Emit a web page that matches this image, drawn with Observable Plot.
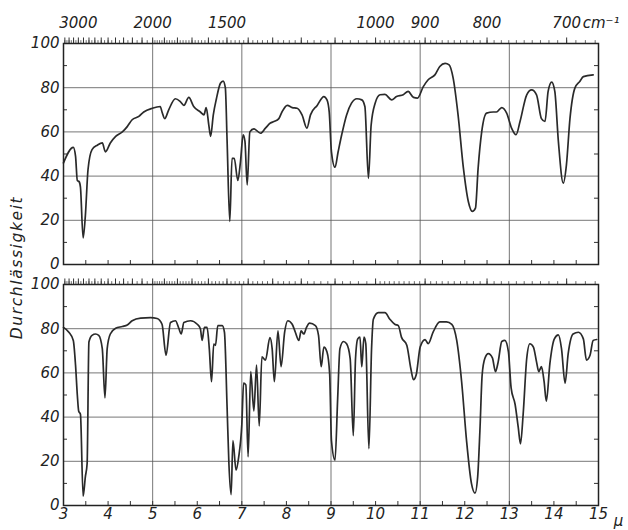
<!DOCTYPE html>
<html><head><meta charset="utf-8">
<script src="https://cdn.jsdelivr.net/npm/d3@7"></script>
<script src="https://cdn.jsdelivr.net/npm/@observablehq/plot@0.6"></script>
<style>
body{margin:0;background:#fff;}
#chart{width:628px;height:530px;}
#chart svg text{font-style:italic;}
</style></head><body><div id="chart"></div>
<script>
// Wellenlänge (µ) und Durchlässigkeit (%) – oberes Spektrum
const topMu = [3.00,3.22,3.27,3.31,3.35,3.38,3.44,3.49,3.55,3.64,
 3.76,3.87,3.94,4.05,4.17,4.32,4.43,4.54,4.69,4.80,
 4.99,5.17,5.21,5.27,5.36,5.51,5.62,5.70,5.81,5.92,
 6.07,6.15,6.20,6.26,6.30,6.36,6.43,6.52,6.58,6.63,
 6.67,6.73,6.78,6.83,6.91,6.97,7.03,7.07,7.12,7.18,
 7.27,7.42,7.53,7.64,7.72,7.83,7.90,8.02,8.13,8.24,
 8.35,8.46,8.54,8.69,8.84,8.91,8.96,9.01,9.09,9.16,
 9.24,9.35,9.46,9.58,9.69,9.76,9.84,9.90,9.99,10.10,
 10.21,10.36,10.47,10.62,10.73,10.85,10.94,11.07,11.18,11.33,
 11.44,11.56,11.65,11.74,11.85,11.97,12.08,12.17,12.24,12.30,
 12.38,12.49,12.64,12.71,12.83,12.94,13.05,13.15,13.24,13.39,
 13.50,13.61,13.72,13.80,13.87,13.95,14.02,14.10,14.21,14.28,
 14.36,14.47,14.58,14.66,14.88];
const topT = [46,53,49,38,37.5,35,12,22,43,52,
 54,55,51,55,58,60,62.4,65.5,67,69,
 70.7,71.5,69,66,70,75,73.7,72,75.6,71.5,
 69,67.7,71,63,58,67.7,75,82,83,80,
 55.6,19.5,48,48,38,46.6,58.7,55.7,36,60,
 61.4,59.4,61.7,64,64.7,66,69,72,71,70.7,
 67.7,61.7,67.7,72,76,74.5,69,51,44,51,
 58.7,67.7,73,75,74.5,71.5,39,63,73,76.8,
 77,74.5,76,76.8,78.3,75.6,75.3,80.5,83.6,85.8,
 89.6,91,90.3,84.3,67.7,43.6,28.5,24,25.5,43.6,
 60,68.5,69,69,71,68.5,61.7,58.7,64.7,76.8,
 79,76.8,66,64.7,78.3,82.5,78.3,55.7,36.8,45,
 66,79.8,82.8,85,85.8];

// unteres Spektrum
const botMu = [3.00,3.12,3.22,3.27,3.31,3.34,3.38,3.44,3.49,3.53,
 3.57,3.64,3.72,3.79,3.87,3.93,3.98,4.05,4.17,4.32,
 4.43,4.54,4.73,4.95,5.10,5.21,5.30,5.40,5.51,5.59,
 5.64,5.70,5.85,6.00,6.07,6.11,6.16,6.22,6.27,6.32,
 6.37,6.41,6.46,6.56,6.61,6.67,6.71,6.76,6.80,6.87,
 6.93,7.00,7.04,7.09,7.14,7.20,7.27,7.33,7.39,7.45,
 7.53,7.63,7.68,7.73,7.81,7.88,7.96,8.03,8.13,8.20,
 8.28,8.33,8.39,8.45,8.52,8.65,8.72,8.78,8.84,8.91,
 8.97,9.01,9.09,9.15,9.20,9.28,9.35,9.43,9.50,9.55,
 9.60,9.65,9.69,9.74,9.78,9.85,9.91,9.95,10.06,10.21,
 10.32,10.43,10.51,10.58,10.70,10.79,10.85,10.91,11.00,11.11,
 11.18,11.29,11.44,11.59,11.71,11.82,11.93,12.04,12.15,12.23,
 12.29,12.34,12.39,12.45,12.53,12.62,12.69,12.75,12.83,12.90,
 12.98,13.04,13.13,13.20,13.25,13.31,13.39,13.46,13.54,13.61,
 13.66,13.72,13.78,13.83,13.91,14.01,14.10,14.17,14.25,14.32,
 14.43,14.55,14.66,14.73,14.81,14.88,14.96];
const botT = [80.6,78.4,74.7,63.5,50,42.8,41.3,4.2,13,19,
 74,77,77.6,77,71,48.7,71,77.6,80.2,81,
 81.7,83.6,84.8,85,84.6,82,68,82.8,83.6,80,
 77.6,82.8,83.6,82,80,74.7,80.6,80.6,71,56,
 73,72.5,81.4,81.4,78.4,44,19,4.9,29.4,16,
 22,36.8,55.4,54.6,22,60.6,42.8,63.5,36,67.3,
 65.8,76,71,56,79,62.8,78.4,83.6,82,78.4,
 74.7,79,77.6,80.6,82.5,81.4,77,62.8,71.7,69.5,
 59.5,29.4,20.5,48.7,71,74.2,73.2,66.5,31.6,66.5,
 75.4,76.2,62.8,76.2,73.2,25.7,71,84.3,87.3,87.3,
 84.3,82,81.4,76.2,72.5,62,56.9,59,71.7,75.1,
 73.2,78.4,83.1,83.1,82,74.7,56,29.4,10,5.6,
 13,33.8,59,66.5,68.7,66.8,60.6,65,74.2,74.7,
 69.5,53.2,45.7,35.3,27.9,41.3,66.5,73.2,71.7,65,
 60.6,62.8,56,47.2,64.3,75.4,77.2,71,55.4,68.7,
 77.6,78.4,75.4,65.8,68,74.7,75.1];

const panels = ["oben", "unten"];
const yTicks = [0, 20, 40, 60, 80, 100];
const yMinor = [10, 30, 50, 70, 90];
const yGrid = [20, 40, 60, 80];
const xTicks = [3,4,5,6,7,8,9,10,11,12,13,14,15];
const xGrid = [5, 7, 9, 11, 13];
const xMinor = d3.range(3.5, 15, 0.5);
const wnLabels = [3000, 2000, 1500, 1000, 900, 800, 700];
const wnMajor = d3.range(3300, 600, -100);
const wnMinor = [...d3.range(3300, 2000, -50), ...d3.range(2000, 1000, -20), ...d3.range(1000, 660, -10)];
const unitLabel = "cm⁻¹";
const muLabel = "μ";
const yTitle = "Durchlässigkeit";

const spectra = [
  ...topMu.map((m, i) => ({panel: "oben", mu: m, t: topT[i]})),
  ...botMu.map((m, i) => ({panel: "unten", mu: m, t: botT[i]}))
];
const toMu = w => 1e4 / w;
const inRange = m => m >= 3 && m <= 15;

const font = "'DejaVu Sans', sans-serif";
const txt = {fontSize: 15, fontStyle: "italic", lineAnchor: "middle", fill: "#222"};
const chart = Plot.plot({
  width: 628, height: 530,
  marginTop: 42, marginBottom: 25, marginLeft: 63, marginRight: 30,
  style: {fontFamily: font, fontSize: "15px", color: "#222", background: "#fff", overflow: "visible"},
  x: {domain: [3, 15], axis: null},
  y: {domain: [0, 100], axis: null},
  fy: {domain: panels, axis: null, paddingInner: 0.083, paddingOuter: 0},
  marks: [
    Plot.gridX(xGrid, {stroke: "#555", strokeOpacity: 0.9, strokeWidth: 0.9}),
    Plot.gridY(yGrid, {stroke: "#555", strokeOpacity: 0.9, strokeWidth: 0.9}),
    Plot.ruleY(yMinor, {x1: 3, x2: 3.09, stroke: "#333", strokeWidth: 1}),
    Plot.ruleY(yMinor, {x1: 14.91, x2: 15, stroke: "#333", strokeWidth: 1}),
    Plot.ruleX(xMinor, {y1: 0, y2: 1.8, stroke: "#333", strokeWidth: 1}),
    Plot.ruleX(wnMinor.map(toMu).filter(inRange), {y1: 100, y2: 101.3, stroke: "#444", strokeWidth: 0.8}),
    Plot.ruleX(wnMajor.map(toMu).filter(inRange), {y1: 100, y2: 102.5, stroke: "#333", strokeWidth: 1}),
    Plot.line(spectra, {x: "mu", y: "t", fy: "panel", stroke: "#2a2a2a", strokeWidth: 1.7, curve: "monotone-x", strokeLinejoin: "round"}),
    Plot.frame({stroke: "#222", strokeWidth: 1.5}),
    Plot.axisY(yTicks, {tickSize: 0, tickPadding: 4, label: null, ...txt}),
    Plot.axisX(xTicks, {tickSize: 0, tickPadding: 9, label: null, ...txt}),
    Plot.text(wnLabels, {x: toMu, text: d => String(d), fy: () => "oben", frameAnchor: "top", dy: -20, ...txt}),
    Plot.text([unitLabel], {x: () => toMu(700), text: d => d, fy: () => "oben", frameAnchor: "top", textAnchor: "start", dx: 16, dy: -20, ...txt}),
    Plot.text([muLabel], {x: () => 15, text: d => d, fy: () => "unten", frameAnchor: "bottom", dx: 20, dy: 16, ...txt}),
    Plot.text([yTitle], {text: d => d, fy: () => "unten", frameAnchor: "top-left", rotate: -90, textAnchor: "middle", dx: -46, dy: -17, ...txt, fontSize: 15.5})
  ]
});
document.getElementById("chart").appendChild(chart);
// spread the letters of the axis title like the reference lettering
d3.select(chart).selectAll("text").filter(function() { return this.textContent === yTitle; })
  .attr("letter-spacing", "1.6px");
</script>
</body></html>
